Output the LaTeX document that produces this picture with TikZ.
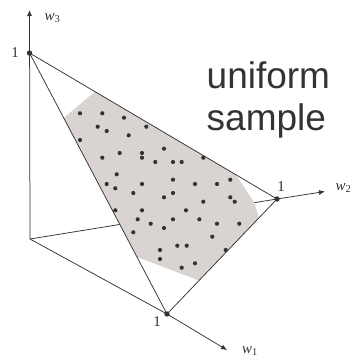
\documentclass[tikz,border=0pt]{standalone}
\usepackage{fontspec}
\setmainfont{Liberation Serif}
\setsansfont{Liberation Sans}
\usetikzlibrary{arrows.meta}
\definecolor{ln}{HTML}{333333}
\definecolor{shadecol}{HTML}{D9D4D1}
\tikzset{
  axis/.style={draw=ln, line width=0.75pt, -{Latex[length=6pt,width=5pt]}},
  edge/.style={draw=ln, line width=0.75pt},
  sdot/.style={fill=ln},
  vdot/.style={fill=ln},
  lab/.style={inner sep=0pt, text=ln, font=\fontsize{15}{17}\selectfont},
  big/.style={inner sep=0pt, text=ln, anchor=base west, font=\sffamily\fontsize{37}{42}\selectfont}
}
\begin{document}
\begin{tikzpicture}[x=1pt,y=-1pt]
\useasboundingbox (0,0) rectangle (349,356);
\clip (0,0) rectangle (349,356);
\coordinate (O) at (30,239);
\coordinate (P3) at (29.5,53);
\coordinate (P1) at (167,314);
\coordinate (P2) at (277,199);
\coordinate (A3) at (29.5,10);
\coordinate (A1) at (227,350);
\coordinate (A2) at (325,191.5);
% axes
\draw[axis] (O) -- (A3);
\draw[axis] (O) -- (P1) -- (A1);
\draw[axis] (O) -- (P2) -- (A2);
% shaded region
\fill[shadecol] (63.7,118) -- (95,91.6) -- (236,174.8) -- (254.5,203) -- (258.8,218) -- (199,280.5) -- (137,257) -- cycle;
% triangle
\draw[edge] (P3) -- (P1) -- (P2) -- cycle;
% sample dots
\foreach \x/\y in {80/113.3,102.3/113.3,124/117.7,97.7/126.7,106.7/131,80/140,128.7/135.3,146.3/126.7,
102.3/157.7,119.7/153,142/153,142/157.7,164/148.7,155.3/162,173/162,181.7/162,203.3/157.7,
116.7/174.3,106.7/184,115.3/188.3,142/184,173/179.7,195/184,217/184,230.3/179.7,
133.3/193,164/197.3,173/193,203.3/201.7,230.3/197.3,234.7/201.7,
115.3/210.3,142/210.3,186/210.3,137.7/219.3,150.7/223.7,164/228,173/219.3,199.3/219.3,217/223.7,239.3/223.7,
133.3/232.3,212.3/236.7,177.3/245.7,186.7/245.7,160/250,160/259,225.7/250,181.7/267.7,195/263.3}
  \fill[sdot] (\x,\y) circle[radius=2.1pt];
% vertex dots
\fill[vdot] (P3) circle[radius=2.7pt];
\fill[vdot] (P1) circle[radius=2.7pt];
\fill[vdot] (P2) circle[radius=2.7pt];
% labels
\node[lab, anchor=base west] (l3) at (44.5,20.5) {\textit{w}\textsubscript{3}};
\node[lab, anchor=base west] (l2) at (335.5,190) {\textit{w}\textsubscript{2}};
\node[lab, anchor=base west] (l1) at (242,353) {\textit{w}\textsubscript{1}};
\node[lab] (o3) at (15,52.5) {1};
\node[lab] (o2) at (281,187) {1};
\node[lab] (o1) at (157,322) {1};
\node[big] (t1) at (206.5,88) {uniform};
\node[big] (t2) at (206.5,130) {sample};
\end{tikzpicture}
\end{document}
